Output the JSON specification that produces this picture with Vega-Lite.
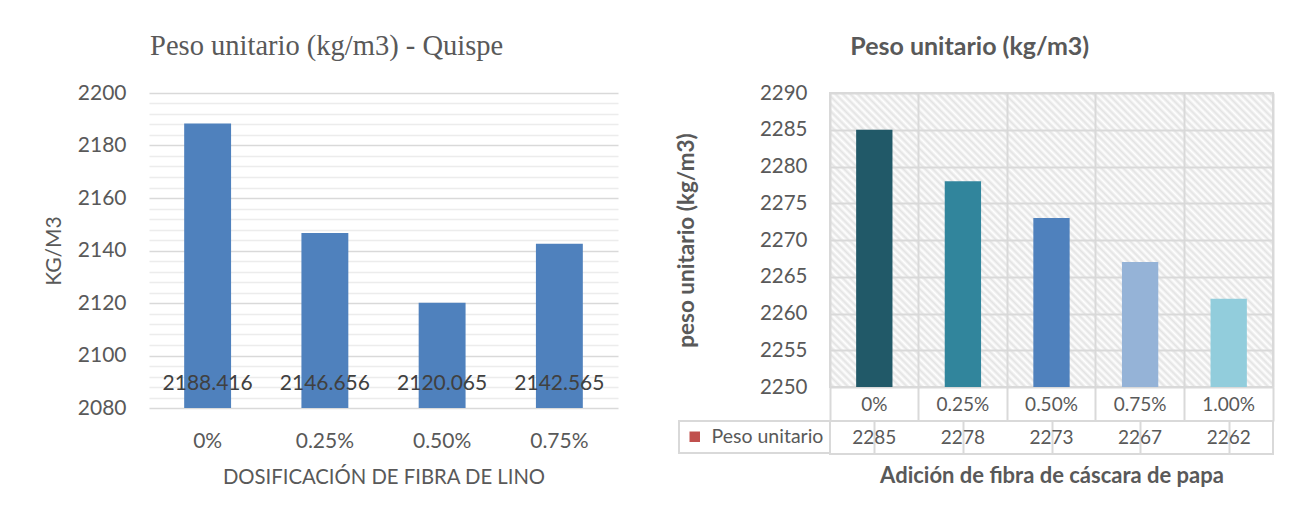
{
"$schema": "https://vega.github.io/schema/vega-lite/v6.json",
"background": "#ffffff",
"padding": {"left": 43, "top": 31, "right": 5, "bottom": 5},
"config": {
  "font": "Lato",
  "view": {"stroke": null},
  "axis": {"labelFont": "Lato", "titleFont": "Lato"},
  "legend": {"strokeWidth": 2, "labelFont": "Lato"},
  "title": {"font": "Lato"}
},
"spacing": 212,
"bounds": "flush",
"resolve": {"scale": {"color": "independent"}, "legend": {"color": "independent"}},
"hconcat": [
{
  "width": 469, "height": 315,
  "title": {"text": "Peso unitario (kg/m3) - Quispe", "font": "Liberation Serif", "fontSize": 28.5, "fontWeight": "normal", "color": "#595959", "anchor": "middle", "frame": "bounds", "offset": 22, "dx": -4},
  "data": {"values": [
    {"dosificacion": "0%", "peso": 2188.416},
    {"dosificacion": "0.25%", "peso": 2146.656},
    {"dosificacion": "0.50%", "peso": 2120.065},
    {"dosificacion": "0.75%", "peso": 2142.565}
  ]},
  "resolve": {"axis": {"y": "independent"}},
  "layer": [
    {
      "mark": {"type": "bar", "color": "#4f81bd"},
      "encoding": {
        "x": {"field": "dosificacion", "type": "nominal", "sort": null,
          "scale": {"paddingInner": 0.6, "paddingOuter": 0.3},
          "axis": {"title": "DOSIFICACIÓN DE FIBRA DE LINO", "labelAngle": 0, "ticks": false, "domain": false, "labelPadding": 22, "labelFontSize": 21, "labelColor": "#595959", "titleFontSize": 20.3, "titleFontWeight": "normal", "titleColor": "#595959", "titlePadding": 16}},
        "y": {"field": "peso", "type": "quantitative",
          "scale": {"domain": [2080, 2200], "zero": false, "nice": false},
          "axis": {"values": [2080, 2100, 2120, 2140, 2160, 2180, 2200], "format": "d", "grid": true, "gridColor": "#d9d9d9", "gridWidth": 1.5, "domain": false, "ticks": false, "labelPadding": 23, "labelFontSize": 21, "labelColor": "#595959", "title": "KG/M3", "titleFontSize": 21, "titleFontWeight": "normal", "titleColor": "#595959", "titlePadding": 13}},
        "y2": {"datum": 2080}
      }
    },
    {
      "mark": {"type": "text", "fontSize": 21, "color": "#404040", "baseline": "middle"},
      "encoding": {
        "x": {"field": "dosificacion", "type": "nominal", "sort": null},
        "y": {"datum": 2089, "type": "quantitative",
          "axis": {"orient": "right", "values": [2084, 2088, 2092, 2096, 2104, 2108, 2112, 2116, 2124, 2128, 2132, 2136, 2144, 2148, 2152, 2156, 2164, 2168, 2172, 2176, 2184, 2188, 2192, 2196], "grid": true, "gridColor": "#ececec", "gridWidth": 1.5, "labels": false, "ticks": false, "domain": false, "title": null}},
        "text": {"field": "peso", "type": "quantitative", "format": ".3f"}
      }
    }
  ]
},
{
  "title": {"text": "Peso unitario (kg/m3)", "fontSize": 25, "fontWeight": "bold", "color": "#595959", "anchor": "middle", "frame": "bounds", "offset": 22, "dx": -5},
  "spacing": 34,
  "bounds": "flush",
  "resolve": {"scale": {"color": "independent", "x": "independent"}, "legend": {"color": "independent"}},
  "data": {"values": [
    {"adicion": "0%", "peso": 2285},
    {"adicion": "0.25%", "peso": 2278},
    {"adicion": "0.50%", "peso": 2273},
    {"adicion": "0.75%", "peso": 2267},
    {"adicion": "1.00%", "peso": 2262}
  ]},
  "vconcat": [
    {
      "width": 443, "height": 294,
      "view": {"stroke": "#d9d9d9", "strokeWidth": 2, "fill": {"gradient": "linear", "x1": 0, "y1": 1, "x2": 1.155, "y2": 0.2334, "stops": [
{"offset":0,"color":"#fff"},{"offset":0.005,"color":"#e3e3e3"},{"offset":0.01,"color":"#fff"},{"offset":0.015,"color":"#e3e3e3"},{"offset":0.02,"color":"#fff"},{"offset":0.025,"color":"#e3e3e3"},{"offset":0.03,"color":"#fff"},{"offset":0.035,"color":"#e3e3e3"},{"offset":0.04,"color":"#fff"},{"offset":0.045,"color":"#e3e3e3"},
{"offset":0.05,"color":"#fff"},{"offset":0.055,"color":"#e3e3e3"},{"offset":0.06,"color":"#fff"},{"offset":0.065,"color":"#e3e3e3"},{"offset":0.07,"color":"#fff"},{"offset":0.075,"color":"#e3e3e3"},{"offset":0.08,"color":"#fff"},{"offset":0.085,"color":"#e3e3e3"},{"offset":0.09,"color":"#fff"},{"offset":0.095,"color":"#e3e3e3"},
{"offset":0.1,"color":"#fff"},{"offset":0.105,"color":"#e3e3e3"},{"offset":0.11,"color":"#fff"},{"offset":0.115,"color":"#e3e3e3"},{"offset":0.12,"color":"#fff"},{"offset":0.125,"color":"#e3e3e3"},{"offset":0.13,"color":"#fff"},{"offset":0.135,"color":"#e3e3e3"},{"offset":0.14,"color":"#fff"},{"offset":0.145,"color":"#e3e3e3"},
{"offset":0.15,"color":"#fff"},{"offset":0.155,"color":"#e3e3e3"},{"offset":0.16,"color":"#fff"},{"offset":0.165,"color":"#e3e3e3"},{"offset":0.17,"color":"#fff"},{"offset":0.175,"color":"#e3e3e3"},{"offset":0.18,"color":"#fff"},{"offset":0.185,"color":"#e3e3e3"},{"offset":0.19,"color":"#fff"},{"offset":0.195,"color":"#e3e3e3"},
{"offset":0.2,"color":"#fff"},{"offset":0.205,"color":"#e3e3e3"},{"offset":0.21,"color":"#fff"},{"offset":0.215,"color":"#e3e3e3"},{"offset":0.22,"color":"#fff"},{"offset":0.225,"color":"#e3e3e3"},{"offset":0.23,"color":"#fff"},{"offset":0.235,"color":"#e3e3e3"},{"offset":0.24,"color":"#fff"},{"offset":0.245,"color":"#e3e3e3"},
{"offset":0.25,"color":"#fff"},{"offset":0.255,"color":"#e3e3e3"},{"offset":0.26,"color":"#fff"},{"offset":0.265,"color":"#e3e3e3"},{"offset":0.27,"color":"#fff"},{"offset":0.275,"color":"#e3e3e3"},{"offset":0.28,"color":"#fff"},{"offset":0.285,"color":"#e3e3e3"},{"offset":0.29,"color":"#fff"},{"offset":0.295,"color":"#e3e3e3"},
{"offset":0.3,"color":"#fff"},{"offset":0.305,"color":"#e3e3e3"},{"offset":0.31,"color":"#fff"},{"offset":0.315,"color":"#e3e3e3"},{"offset":0.32,"color":"#fff"},{"offset":0.325,"color":"#e3e3e3"},{"offset":0.33,"color":"#fff"},{"offset":0.335,"color":"#e3e3e3"},{"offset":0.34,"color":"#fff"},{"offset":0.345,"color":"#e3e3e3"},
{"offset":0.35,"color":"#fff"},{"offset":0.355,"color":"#e3e3e3"},{"offset":0.36,"color":"#fff"},{"offset":0.365,"color":"#e3e3e3"},{"offset":0.37,"color":"#fff"},{"offset":0.375,"color":"#e3e3e3"},{"offset":0.38,"color":"#fff"},{"offset":0.385,"color":"#e3e3e3"},{"offset":0.39,"color":"#fff"},{"offset":0.395,"color":"#e3e3e3"},
{"offset":0.4,"color":"#fff"},{"offset":0.405,"color":"#e3e3e3"},{"offset":0.41,"color":"#fff"},{"offset":0.415,"color":"#e3e3e3"},{"offset":0.42,"color":"#fff"},{"offset":0.425,"color":"#e3e3e3"},{"offset":0.43,"color":"#fff"},{"offset":0.435,"color":"#e3e3e3"},{"offset":0.44,"color":"#fff"},{"offset":0.445,"color":"#e3e3e3"},
{"offset":0.45,"color":"#fff"},{"offset":0.455,"color":"#e3e3e3"},{"offset":0.46,"color":"#fff"},{"offset":0.465,"color":"#e3e3e3"},{"offset":0.47,"color":"#fff"},{"offset":0.475,"color":"#e3e3e3"},{"offset":0.48,"color":"#fff"},{"offset":0.485,"color":"#e3e3e3"},{"offset":0.49,"color":"#fff"},{"offset":0.495,"color":"#e3e3e3"},
{"offset":0.5,"color":"#fff"},{"offset":0.505,"color":"#e3e3e3"},{"offset":0.51,"color":"#fff"},{"offset":0.515,"color":"#e3e3e3"},{"offset":0.52,"color":"#fff"},{"offset":0.525,"color":"#e3e3e3"},{"offset":0.53,"color":"#fff"},{"offset":0.535,"color":"#e3e3e3"},{"offset":0.54,"color":"#fff"},{"offset":0.545,"color":"#e3e3e3"},
{"offset":0.55,"color":"#fff"},{"offset":0.555,"color":"#e3e3e3"},{"offset":0.56,"color":"#fff"},{"offset":0.565,"color":"#e3e3e3"},{"offset":0.57,"color":"#fff"},{"offset":0.575,"color":"#e3e3e3"},{"offset":0.58,"color":"#fff"},{"offset":0.585,"color":"#e3e3e3"},{"offset":0.59,"color":"#fff"},{"offset":0.595,"color":"#e3e3e3"},
{"offset":0.6,"color":"#fff"},{"offset":0.605,"color":"#e3e3e3"},{"offset":0.61,"color":"#fff"},{"offset":0.615,"color":"#e3e3e3"},{"offset":0.62,"color":"#fff"},{"offset":0.625,"color":"#e3e3e3"},{"offset":0.63,"color":"#fff"},{"offset":0.635,"color":"#e3e3e3"},{"offset":0.64,"color":"#fff"},{"offset":0.645,"color":"#e3e3e3"},
{"offset":0.65,"color":"#fff"},{"offset":0.655,"color":"#e3e3e3"},{"offset":0.66,"color":"#fff"},{"offset":0.665,"color":"#e3e3e3"},{"offset":0.67,"color":"#fff"},{"offset":0.675,"color":"#e3e3e3"},{"offset":0.68,"color":"#fff"},{"offset":0.685,"color":"#e3e3e3"},{"offset":0.69,"color":"#fff"},{"offset":0.695,"color":"#e3e3e3"},
{"offset":0.7,"color":"#fff"},{"offset":0.705,"color":"#e3e3e3"},{"offset":0.71,"color":"#fff"},{"offset":0.715,"color":"#e3e3e3"},{"offset":0.72,"color":"#fff"},{"offset":0.725,"color":"#e3e3e3"},{"offset":0.73,"color":"#fff"},{"offset":0.735,"color":"#e3e3e3"},{"offset":0.74,"color":"#fff"},{"offset":0.745,"color":"#e3e3e3"},
{"offset":0.75,"color":"#fff"},{"offset":0.755,"color":"#e3e3e3"},{"offset":0.76,"color":"#fff"},{"offset":0.765,"color":"#e3e3e3"},{"offset":0.77,"color":"#fff"},{"offset":0.775,"color":"#e3e3e3"},{"offset":0.78,"color":"#fff"},{"offset":0.785,"color":"#e3e3e3"},{"offset":0.79,"color":"#fff"},{"offset":0.795,"color":"#e3e3e3"},
{"offset":0.8,"color":"#fff"},{"offset":0.805,"color":"#e3e3e3"},{"offset":0.81,"color":"#fff"},{"offset":0.815,"color":"#e3e3e3"},{"offset":0.82,"color":"#fff"},{"offset":0.825,"color":"#e3e3e3"},{"offset":0.83,"color":"#fff"},{"offset":0.835,"color":"#e3e3e3"},{"offset":0.84,"color":"#fff"},{"offset":0.845,"color":"#e3e3e3"},
{"offset":0.85,"color":"#fff"},{"offset":0.855,"color":"#e3e3e3"},{"offset":0.86,"color":"#fff"},{"offset":0.865,"color":"#e3e3e3"},{"offset":0.87,"color":"#fff"},{"offset":0.875,"color":"#e3e3e3"},{"offset":0.88,"color":"#fff"},{"offset":0.885,"color":"#e3e3e3"},{"offset":0.89,"color":"#fff"},{"offset":0.895,"color":"#e3e3e3"},
{"offset":0.9,"color":"#fff"},{"offset":0.905,"color":"#e3e3e3"},{"offset":0.91,"color":"#fff"},{"offset":0.915,"color":"#e3e3e3"},{"offset":0.92,"color":"#fff"},{"offset":0.925,"color":"#e3e3e3"},{"offset":0.93,"color":"#fff"},{"offset":0.935,"color":"#e3e3e3"},{"offset":0.94,"color":"#fff"},{"offset":0.945,"color":"#e3e3e3"},
{"offset":0.95,"color":"#fff"},{"offset":0.955,"color":"#e3e3e3"},{"offset":0.96,"color":"#fff"},{"offset":0.965,"color":"#e3e3e3"},{"offset":0.97,"color":"#fff"},{"offset":0.975,"color":"#e3e3e3"},{"offset":0.98,"color":"#fff"},{"offset":0.985,"color":"#e3e3e3"},{"offset":0.99,"color":"#fff"},{"offset":0.995,"color":"#e3e3e3"},
{"offset":1,"color":"#fff"}
      ]}},
      "mark": {"type": "bar", "width": {"band": 0.41}},
      "encoding": {
        "x": {"field": "adicion", "type": "nominal", "sort": null,
          "scale": {"paddingInner": 0, "paddingOuter": 0},
          "axis": {"title": null, "labelAngle": 0, "bandPosition": 1, "tickExtra": true, "grid": true, "gridColor": "#d9d9d9", "gridWidth": 2, "ticks": true, "tickSize": 34, "tickColor": "#d9d9d9", "tickWidth": 2, "domain": false, "labelPadding": -17, "labelBaseline": "middle", "labelFontSize": 19, "labelColor": "#595959"}},
        "y": {"field": "peso", "type": "quantitative",
          "scale": {"domain": [2250, 2290], "zero": false, "nice": false},
          "axis": {"values": [2250, 2255, 2260, 2265, 2270, 2275, 2280, 2285, 2290], "format": "d", "grid": true, "gridColor": "#d9d9d9", "gridWidth": 2, "domain": false, "ticks": false, "labelPadding": 23, "labelFontSize": 20.5, "labelColor": "#595959", "title": "peso unitario (kg/m3)", "titleFontSize": 22.5, "titleFontWeight": "bold", "titleColor": "#595959", "titlePadding": 61}},
        "y2": {"datum": 2250},
        "color": {"field": "adicion", "type": "nominal", "sort": null,
          "scale": {"domain": ["0%", "0.25%", "0.50%", "0.75%", "1.00%"], "range": ["#215968", "#31859c", "#4f81bd", "#95b3d7", "#92cddc"]},
          "legend": null}
      }
    },
    {
      "width": 443, "height": 33,
      "view": {"stroke": "#d9d9d9", "strokeWidth": 2},
      "layer": [
        {
          "mark": {"type": "text", "fontSize": 19, "color": "#595959"},
          "encoding": {
            "x": {"field": "adicion", "type": "nominal", "sort": null,
              "scale": {"paddingInner": 0, "paddingOuter": 0},
              "axis": {"title": "Adición de fibra de cáscara de papa", "bandPosition": 0, "grid": true, "gridColor": "#d9d9d9", "gridWidth": 2, "labels": false, "ticks": false, "domain": false, "titleFontSize": 22, "titleFontWeight": "bold", "titleColor": "#595959", "titlePadding": 11}},
            "text": {"field": "peso", "type": "quantitative", "format": "d"}
          }
        },
        {
          "mark": {"type": "point", "shape": "square", "filled": true, "opacity": 0},
          "encoding": {
            "x": {"field": "adicion", "type": "nominal", "sort": null},
            "color": {"datum": "Peso unitario", "type": "nominal",
              "scale": {"range": ["#c0504d"]},
              "legend": {"title": null, "orient": "left", "offset": 0, "symbolType": "square", "symbolSize": 110, "symbolOpacity": 1, "symbolStrokeWidth": 0, "labelFontSize": 19.5, "labelColor": "#595959", "padding": 6, "strokeColor": "#d9d9d9", "labelOffset": 7}}
          }
        }
      ]
    }
  ]
}
]
}
